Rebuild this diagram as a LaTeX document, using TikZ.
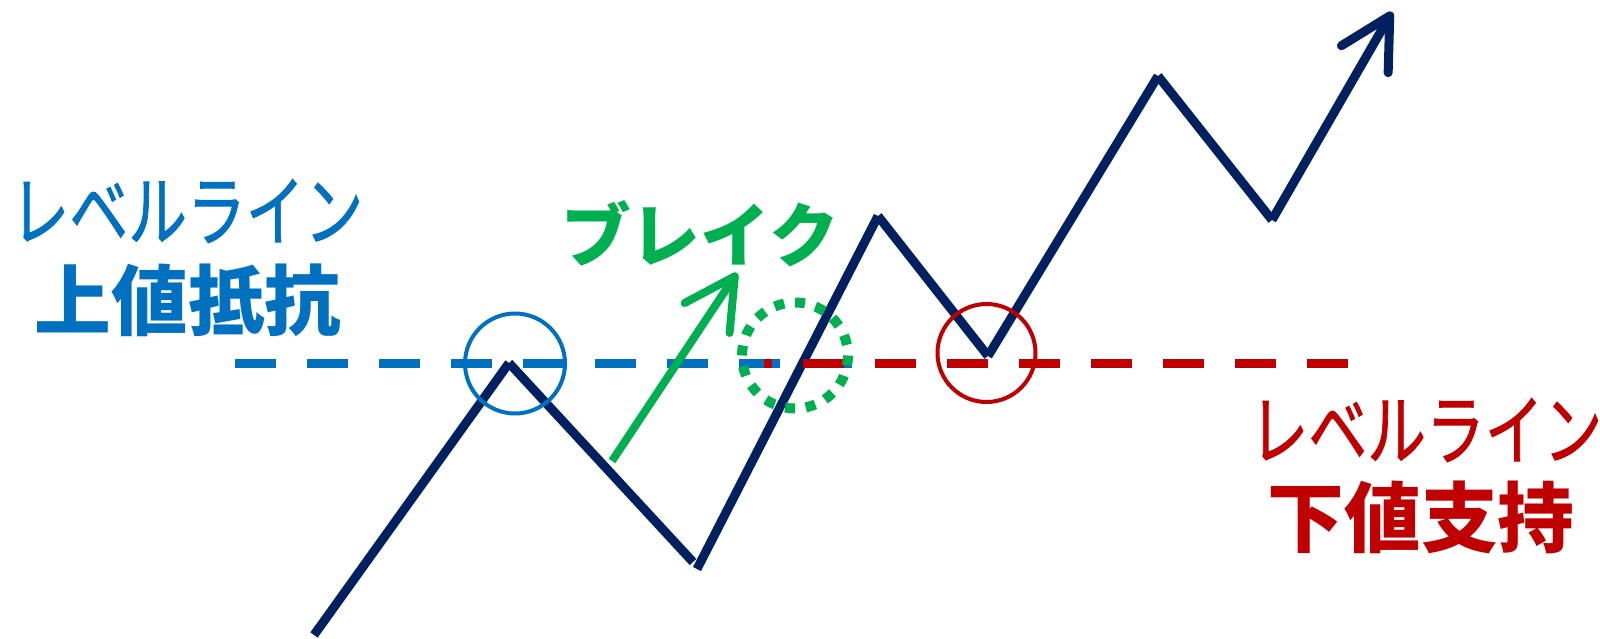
\documentclass[tikz,border=0pt]{standalone}
\usepackage{fontspec}
\usepackage{graphicx}
\usepackage{xcolor}
\usepackage{tikz}
\usetikzlibrary{arrows.meta}
\newfontfamily\jpfont{Noto Sans CJK JP}
\newfontfamily\kanafont[FakeBold=1.2]{Noto Sans CJK JP}
\newcommand{\tallkana}[1]{\scalebox{1}[1.32]{#1}}
\definecolor{lvBlue}{RGB}{0,112,192}
\definecolor{lvRed}{RGB}{192,0,0}
\definecolor{lvGreen}{RGB}{0,176,80}
\definecolor{lvNavy}{RGB}{0,32,96}

\begin{document}
\begin{tikzpicture}[x=1bp,y=-1bp,
  trend/.style={lvNavy, line width=9bp},
  level/.style={line width=9bp, dash pattern=on 41bp off 31bp},
  ring/.style={line width=4bp},
  kana/.style={inner sep=0pt, font=\kanafont\fontsize{59}{60}\selectfont},
  kanji/.style={inner sep=0pt, font=\jpfont\bfseries\fontsize{77}{80}\selectfont},
  barb/.style={-{Straight Barb[length=50bp,width=54bp,round]}}]
\useasboundingbox (0,0) rectangle (1600,639);

\coordinate (p0) at (314,635);
\coordinate (p1) at (509,363);
\coordinate (p2) at (693,562);
\coordinate (p3) at (697,569);
\coordinate (p4) at (878,216);
\coordinate (p5) at (988,356);
\coordinate (p6) at (1158,76);
\coordinate (p7) at (1272,220);
\coordinate (p8) at (1392,12);
\foreach \i/\j in {0/1,1/2,3/4,4/5,5/6,6/7}
  \draw[trend] (p\i) -- (p\j);
\draw[trend, barb] (p7) -- (p8);

% level lines
\draw[level, lvBlue] (235,363) -- (853,363);
\draw[level, lvRed, dash phase=33bp] (764,363) -- (1348,363);

\draw[ring, lvBlue] (515,363.5) circle (50);
\draw[ring, lvRed] (986.5,353) circle (49);
\draw[lvGreen, line width=10bp, dash pattern=on 10bp off 10.81bp] (795,355.5) circle (53);

\coordinate (g0) at (612,461);
\coordinate (g1) at (737,273);
\draw[lvGreen, line width=8bp, barb] (g0) -- (g1);

\node[kana, lvBlue] (topLevel) at (187,211) {\tallkana{レベルライン}};
\node[kanji, lvBlue] (resist) at (188,300) {上値抵抗};
\node[kanji, lvGreen, font=\jpfont\bfseries\fontsize{70}{72}\selectfont] (brk) at (700,234) {ブレイク};
\node[kana, lvRed] (botLevel) at (1426,430) {\tallkana{レベルライン}};
\node[kanji, lvRed] (support) at (1421,517) {下値支持};
\end{tikzpicture}
\end{document}
